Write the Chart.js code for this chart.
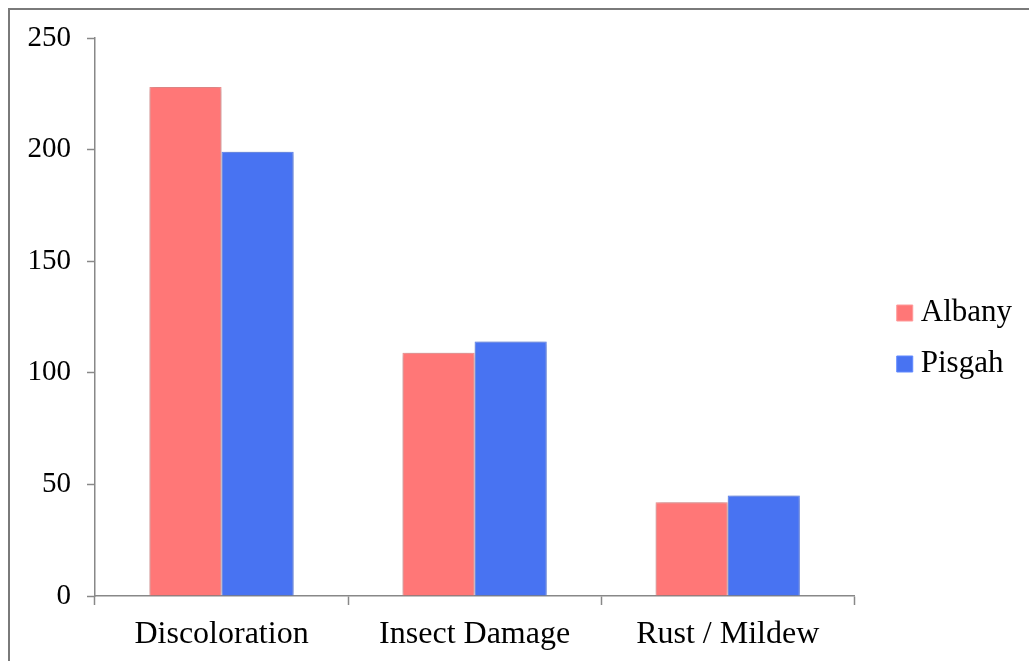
<!DOCTYPE html>
<html>
<head>
<meta charset="utf-8">
<script src="https://cdn.jsdelivr.net/npm/chart.js@4/dist/chart.umd.min.js"></script>
<style>
  html, body { margin: 0; padding: 0; background: #ffffff; }
  #wrap { position: relative; width: 1029px; height: 661px; }
</style>
</head>
<body>
<div id="wrap"><canvas id="chart"></canvas></div>
<script>
// Defect counts per category for the two sites
const categories = ['Discoloration', 'Insect Damage', 'Rust / Mildew'];
const albany = [228, 109, 42];
const pisgah = [199, 114, 45];
const seriesNames = ['Albany', 'Pisgah'];
const yMin = 0;
const yMax = 250;
const yStep = 50;

const SERIF = "'Liberation Serif', 'Times New Roman', serif";
const AXIS_GREY = '#888888';

// Thin frame along the top and left edges of the figure
const framePlugin = {
  id: 'frame',
  beforeDraw(chart) {
    const ctx = chart.ctx;
    ctx.save();
    ctx.strokeStyle = '#7a7a7a';
    ctx.lineWidth = 2;
    ctx.beginPath();
    ctx.moveTo(9, chart.height);
    ctx.lineTo(9, 9);
    ctx.lineTo(chart.width, 9);
    ctx.stroke();
    ctx.restore();
  }
};

// Soft shadow around the bars
const barShadow = {
  id: 'barShadow',
  beforeDatasetsDraw(chart) {
    const ctx = chart.ctx;
    ctx.save();
    ctx.shadowColor = 'rgba(0,0,0,0.32)';
    ctx.shadowBlur = 6;
    ctx.shadowOffsetX = 0;
    ctx.shadowOffsetY = 0;
  },
  afterDatasetsDraw(chart) {
    chart.ctx.restore();
  }
};

new Chart(document.getElementById('chart'), {
  type: 'bar',
  data: {
    labels: categories,
    datasets: [
      {
        label: seriesNames[0],
        data: albany,
        backgroundColor: '#ff7777',
        borderColor: '#ff9a9a',
        borderWidth: 1,
        borderSkipped: 'start'
      },
      {
        label: seriesNames[1],
        data: pisgah,
        backgroundColor: '#4873f2',
        borderColor: '#6089ff',
        borderWidth: 1,
        borderSkipped: 'start'
      }
    ]
  },
  options: {
    responsive: true,
    maintainAspectRatio: false,
    animation: false,
    layout: { padding: { top: 16, right: 7, bottom: 0, left: 0 } },
    datasets: {
      bar: { categoryPercentage: 0.57, barPercentage: 1.0 }
    },
    plugins: {
      title: { display: false },
      tooltip: { enabled: false },
      legend: {
        display: true,
        position: 'right',
        align: 'center',
        labels: {
          usePointStyle: true,
          pointStyle: 'rect',
          boxWidth: 1,
          boxHeight: 16,
          padding: 20,
          color: '#000000',
          font: { family: SERIF, size: 31 }
        }
      }
    },
    scales: {
      x: {
        type: 'category',
        offset: true,
        grid: {
          display: true,
          offset: true,
          drawOnChartArea: false,
          drawTicks: true,
          tickLength: 9,
          tickColor: AXIS_GREY,
          tickWidth: 1.5
        },
        border: { display: true, color: AXIS_GREY, width: 1.5 },
        ticks: {
          color: '#000000',
          padding: 10,
          maxRotation: 0,
          autoSkip: false,
          font: { family: SERIF, size: 32 }
        },
        afterFit(scale) { scale.height = 65; }
      },
      y: {
        position: 'left',
        min: yMin,
        max: yMax,
        grid: {
          display: true,
          drawOnChartArea: false,
          drawTicks: true,
          tickLength: 8,
          tickColor: AXIS_GREY,
          tickWidth: 1.5
        },
        border: { display: true, color: AXIS_GREY, width: 1.5 },
        ticks: {
          stepSize: yStep,
          color: '#000000',
          padding: 16,
          font: { family: SERIF, size: 29 }
        },
        afterFit(scale) {
          scale.width = 95;
          scale.paddingTop = 38;
        }
      },
      // empty strip that keeps the legend clear of the plot
      gap: {
        type: 'linear',
        position: 'right',
        display: true,
        grid: { display: false, drawTicks: false },
        border: { display: false },
        ticks: { display: false },
        afterFit(scale) { scale.width = 30; }
      }
    }
  },
  plugins: [framePlugin, barShadow]
});
</script>
</body>
</html>
